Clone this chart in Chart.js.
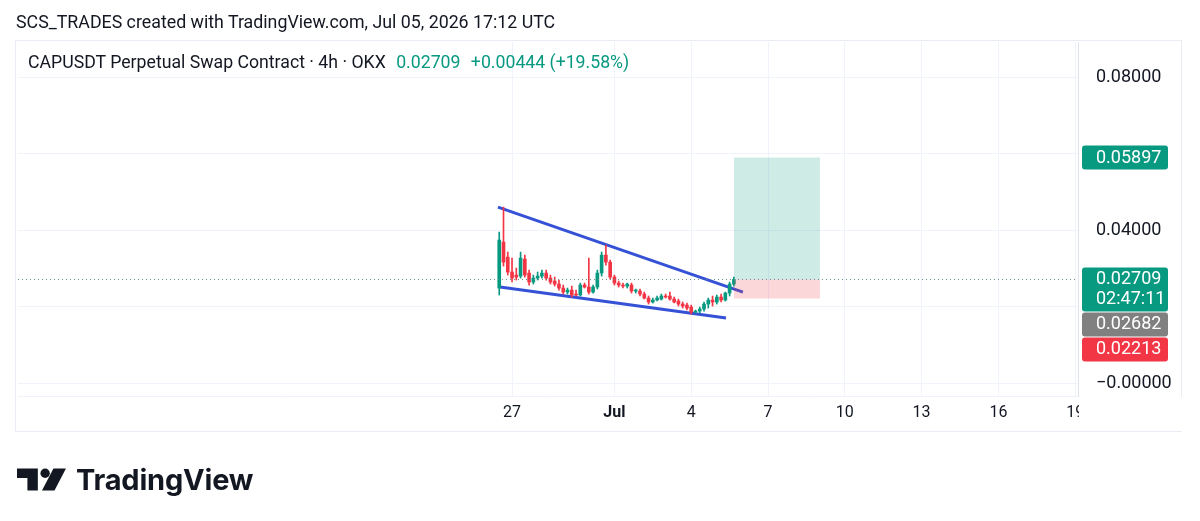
<!DOCTYPE html>
<html>
<head>
<meta charset="utf-8">
<script src="https://cdn.jsdelivr.net/npm/chart.js@4.4.1/dist/chart.umd.min.js"></script>
<style>
  html, body { margin: 0; padding: 0; background: #fff; width: 1200px; height: 521px; overflow: hidden; }
  body { font-family: Roboto, "Noto Sans", sans-serif; color: #131722; }
  #wrap { position: relative; width: 1200px; height: 521px; }
  #frame { position: absolute; left: 15px; top: 40px; width: 1167px; height: 392px; border: 1px solid #e9ecf2; box-sizing: border-box; }
  #chart { position: absolute; left: 0; top: 0; }
  #credit { position: absolute; left: 16px; top: 11px; font-size: 17.8px; white-space: nowrap; }
  #legend { position: absolute; left: 28px; top: 52px; font-size: 17.7px; white-space: nowrap; }
  #legend .up { color: #089981; margin-left: 6px; }
  #logo { position: absolute; left: 17px; top: 462px; display: flex; align-items: center; }
  #logo span { font-family: Inter, "Open Sans", sans-serif; font-weight: 700; font-size: 29px; margin-left: 9px; letter-spacing: -0.2px; color: #131722; }
</style>
</head>
<body>
<div id="wrap">
  <div id="frame"></div>
  <canvas id="chart" width="1200" height="521"></canvas>
  <div id="credit">SCS_TRADES created with TradingView.com, Jul 05, 2026 17:12 UTC</div>
  <div id="legend">CAPUSDT Perpetual Swap Contract · 4h · OKX <span class="up">0.02709</span> <span class="up">+0.00444 (+19.58%)</span></div>
  <div id="logo">
    <svg width="50" height="24" viewBox="0 0 48 22">
      <path d="M0 0 H20 V21 H10 V9 H0 Z" fill="#131722"/>
      <circle cx="27" cy="4.5" r="4.5" fill="#131722"/>
      <path d="M35 0 H47 L36 21 H24 Z" fill="#131722"/>
    </svg>
    <span>TradingView</span>
  </div>
</div>
<script>
// CAPUSDT 4h, OKX. x axis is in days from Jun 27 00:00, y is price.

const TICK_DAYS = [0, 4, 7, 10, 13, 16, 19, 22];
const TICK_LABELS = ["27", "Jul", "4", "7", "10", "13", "16", "19"];
const PRICE_TICKS = [0, 0.02, 0.04, 0.06, 0.08];

const FIRST_BAR = -0.5;   // Jun 26 12:00
const BAR_STEP = 1 / 6;   // 4h candles

const OPEN = [0.02484, 0.03686, 0.03294, 0.02902, 0.02824, 0.02797, 0.03242, 0.02876, 0.02641, 0.02745,
              0.02797, 0.02876, 0.02745, 0.02667, 0.02588, 0.02484, 0.02379, 0.02431, 0.02327, 0.02301,
              0.02562, 0.02510, 0.02379, 0.02510, 0.02876, 0.03346, 0.03163, 0.02771, 0.02614, 0.02562,
              0.02536, 0.02562, 0.02405, 0.02405, 0.02327, 0.02222, 0.02118, 0.02170, 0.02196, 0.02275,
              0.02275, 0.02196, 0.02144, 0.02065, 0.02039, 0.01987, 0.01856, 0.01882, 0.01935, 0.02065,
              0.02170, 0.02118, 0.02248, 0.02170, 0.02353, 0.02588];
const HIGH = [0.03948, 0.04601, 0.03425, 0.03268, 0.03007, 0.03425, 0.03346, 0.02954, 0.02824, 0.02902,
              0.02954, 0.02954, 0.02824, 0.02771, 0.02693, 0.02562, 0.02484, 0.02536, 0.02431, 0.02614,
              0.02614, 0.03268, 0.02562, 0.02954, 0.03425, 0.03608, 0.03216, 0.02824, 0.02667, 0.02614,
              0.02614, 0.02614, 0.02458, 0.02458, 0.02379, 0.02275, 0.02222, 0.02275, 0.02327, 0.02327,
              0.02379, 0.02248, 0.02196, 0.02118, 0.02092, 0.02039, 0.01909, 0.01987, 0.02118, 0.02222,
              0.02275, 0.02301, 0.02327, 0.02379, 0.02641, 0.02771];
const LOW = [0.02301, 0.03059, 0.02824, 0.02641, 0.02693, 0.02745, 0.02771, 0.02562, 0.02588, 0.02693,
             0.02745, 0.02693, 0.02588, 0.02536, 0.02431, 0.02327, 0.02327, 0.02248, 0.02275, 0.02275,
             0.02484, 0.02327, 0.02353, 0.02458, 0.02797, 0.03085, 0.02719, 0.02562, 0.02510, 0.02484,
             0.02484, 0.02353, 0.02353, 0.02275, 0.02196, 0.02065, 0.02092, 0.02144, 0.02170, 0.02222,
             0.02170, 0.02092, 0.02013, 0.01961, 0.01909, 0.01804, 0.01830, 0.01830, 0.01882, 0.01961,
             0.02013, 0.02065, 0.02118, 0.02144, 0.02275, 0.02536];
const CLOSE = [0.03739, 0.03163, 0.02902, 0.02745, 0.02771, 0.03268, 0.02824, 0.02641, 0.02745, 0.02797,
               0.02876, 0.02745, 0.02641, 0.02588, 0.02484, 0.02379, 0.02431, 0.02301, 0.02301, 0.02562,
               0.02510, 0.02379, 0.02510, 0.02876, 0.03346, 0.03163, 0.02771, 0.02614, 0.02562, 0.02536,
               0.02588, 0.02405, 0.02431, 0.02327, 0.02222, 0.02118, 0.02170, 0.02222, 0.02275, 0.02248,
               0.02196, 0.02118, 0.02065, 0.02013, 0.01961, 0.01856, 0.01882, 0.01935, 0.02065, 0.02170,
               0.02118, 0.02248, 0.02170, 0.02353, 0.02588, 0.02709];

// falling wedge drawn on the chart
const UPPER_X = [-0.55, 9.02];
const UPPER_Y = [0.04601, 0.02379];
const LOWER_X = [-0.47, 8.36];
const LOWER_Y = [0.02510, 0.01699];

// long position tool
const POS_X = [8.67, 12.03];
const TARGET = 0.05897;
const ENTRY = 0.02709;
const STOP = 0.02213;

// price-axis tags, top to bottom
const TAG_VALUES = [0.05897, 0.02709, 0.02682, 0.02213];
const TAG_TEXT = [["0.05897"], ["0.02709", "02:47:11"], ["0.02682"], ["0.02213"]];
const TAG_COLORS = ["#089981", "#089981", "#808080", "#f23645"];

const X_MIN = -19.3, X_MAX = 22.11;
const Y_MIN = -0.0034, Y_MAX = 0.0892;

const UP = "#089981", DOWN = "#f23645", BLUE = "#3551d6";

const times = OPEN.map((_, i) => FIRST_BAR + i * BAR_STEP);
const barColors = OPEN.map((o, i) => (CLOSE[i] >= o ? UP : DOWN));
const seg = (xs, ys) => xs.map((x, i) => ({ x, y: ys[i] }));

const priceTags = {
  id: "priceTags",
  afterDraw(chart) {
    const { ctx, chartArea: a, scales: { y } } = chart;
    ctx.save();
    // time axis stops at the price axis
    ctx.fillStyle = "#fff";
    ctx.fillRect(a.right + 1, a.bottom + 1, 120, 34);
    ctx.font = "18px Roboto";
    ctx.textBaseline = "middle";
    let prevBottom = -Infinity;
    TAG_VALUES.forEach((v, i) => {
      const lines = TAG_TEXT[i];
      const h = lines.length === 1 ? 24 : 44;
      const top = Math.max(y.getPixelForValue(v) - 12, prevBottom + 1);
      ctx.fillStyle = TAG_COLORS[i];
      ctx.beginPath();
      ctx.roundRect(a.right + 4, top, 86, h, 3);
      ctx.fill();
      ctx.fillStyle = "#fff";
      lines.forEach((t, j) => ctx.fillText(t, a.right + 18, top + 12.5 + j * 20));
      prevBottom = top + h;
    });
    ctx.restore();
  },
};

new Chart(document.getElementById("chart"), {
  type: "bar",
  data: {
    datasets: [
      { type: "line", data: seg(POS_X, [TARGET, TARGET]), borderWidth: 0, pointRadius: 0, fill: false },
      { type: "line", data: seg(POS_X, [ENTRY, ENTRY]), borderWidth: 0, pointRadius: 0,
        fill: { target: 0 }, backgroundColor: "rgba(8,153,129,0.2)" },
      { type: "line", data: seg(POS_X, [STOP, STOP]), borderWidth: 0, pointRadius: 0,
        fill: { target: 1 }, backgroundColor: "rgba(242,54,69,0.2)" },
      { type: "line", data: seg([X_MIN, X_MAX], [ENTRY, ENTRY]), borderColor: "#6a8f88", borderWidth: 1,
        borderDash: [1, 3], pointRadius: 0, fill: false },
      { data: times.map((t, i) => ({ x: t, y: [LOW[i], HIGH[i]] })), backgroundColor: barColors,
        barThickness: 1, grouped: false },
      { data: times.map((t, i) => ({ x: t, y: [OPEN[i], CLOSE[i]] })), backgroundColor: barColors,
        barThickness: 3, minBarLength: 1, grouped: false },
      { type: "line", data: seg(UPPER_X, UPPER_Y), borderColor: BLUE, borderWidth: 3, pointRadius: 0, fill: false },
      { type: "line", data: seg(LOWER_X, LOWER_Y), borderColor: BLUE, borderWidth: 3, pointRadius: 0, fill: false },
    ],
  },
  options: {
    responsive: false, animation: false,
    layout: { padding: { left: 18, top: 42, right: 18, bottom: 91 } },
    plugins: { legend: { display: false }, tooltip: { enabled: false } },
    scales: {
      x: {
        type: "linear", min: X_MIN, max: X_MAX, offset: false,
        afterBuildTicks: (s) => { s.ticks = TICK_DAYS.map((v) => ({ value: v })); },
        afterFit: (s) => { s.height = 34; },
        grid: { color: "#f0f3fa", drawTicks: false, offset: false },
        border: { color: "#f0f3fa" },
        ticks: {
          autoSkip: false, maxRotation: 0, padding: 7, color: "#131722",
          font: (c) => ({ family: "Roboto", size: 16, weight: TICK_LABELS[c.index] === "Jul" ? "bold" : "normal" }),
          callback: (v, i) => TICK_LABELS[i],
        },
      },
      y: {
        type: "linear", position: "right", min: Y_MIN, max: Y_MAX,
        afterBuildTicks: (s) => { s.ticks = PRICE_TICKS.map((v) => ({ value: v })); },
        afterFit: (s) => { s.width = 104; },
        grid: { color: "#f0f3fa", drawTicks: false },
        border: { color: "#e0e3eb" },
        ticks: {
          padding: 18, color: "#131722", font: { family: "Roboto", size: 18 },
          callback: (v) => (v === 0 ? "\u22120.00000" : v === 0.04 || v === 0.08 ? v.toFixed(5) : ""),
        },
      },
    },
  },
  plugins: [priceTags],
});
</script>
</body>
</html>
